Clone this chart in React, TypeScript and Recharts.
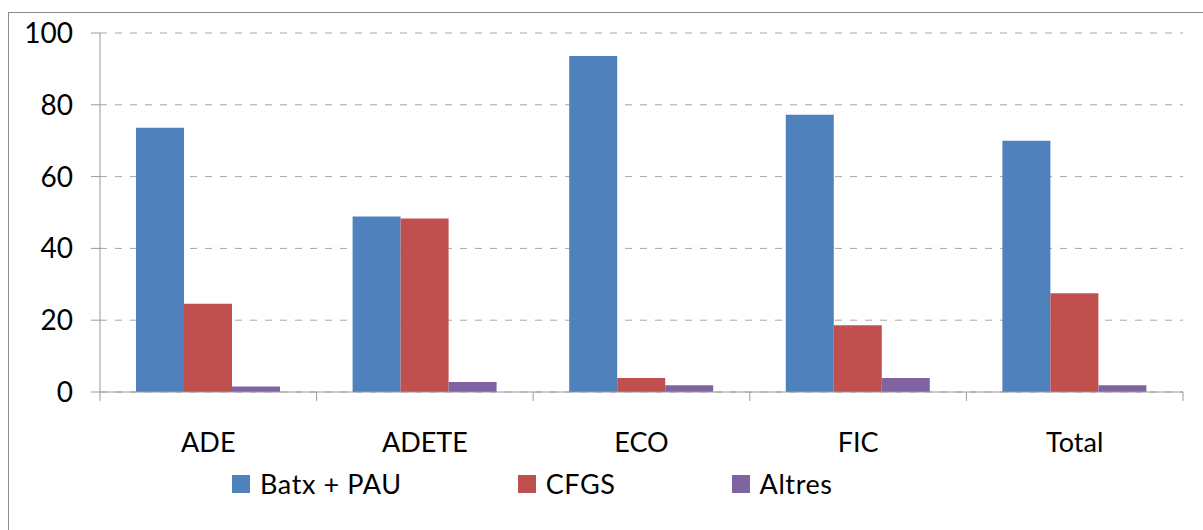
import React from 'react';
import { BarChart, Bar, XAxis, YAxis, CartesianGrid, Legend } from 'recharts';

const categories = ['ADE', 'ADETE', 'ECO', 'FIC', 'Total'];
const batxPau = [73.6, 48.9, 93.6, 77.2, 70.0];
const cfgs = [24.6, 48.3, 3.9, 18.6, 27.5];
const altres = [1.5, 2.8, 1.9, 3.9, 1.9];
const yTicks = [0, 20, 40, 60, 80, 100];

const series = [
  { key: 'batx', name: 'Batx + PAU', color: '#4F81BD' },
  { key: 'cfgs', name: 'CFGS', color: '#C0504D' },
  { key: 'altres', name: 'Altres', color: '#8064A2' },
];

const data = categories.map((cat, i) => ({
  cat,
  batx: batxPau[i],
  cfgs: cfgs[i],
  altres: altres[i],
}));

const font = 'Lato, "Open Sans", sans-serif';
const axisGray = '#9a9a9a';
const AXIS_Y = 392;

// category label plus Excel-style tick marks on the band edges
function CategoryTick(props: any) {
  const { x, y, payload, index, width, visibleTicksCount } = props;
  const step = width / visibleTicksCount;
  const left = x - step / 2;
  return (
    <g>
      <line x1={left} x2={left} y1={AXIS_Y} y2={AXIS_Y + 9} stroke={axisGray} />
      {index === visibleTicksCount - 1 && (
        <line x1={left + step} x2={left + step} y1={AXIS_Y} y2={AXIS_Y + 9} stroke={axisGray} />
      )}
      <text x={x} y={y} dy={20} textAnchor="middle" fontFamily={font} fontSize={27} fill="#000">
        {payload.value}
      </text>
    </g>
  );
}

function LegendRow() {
  return (
    <div style={{ height: 30, display: 'flex', alignItems: 'center', paddingLeft: 232, gap: 116 }}>
      {series.map((s) => (
        <div key={s.key} style={{ display: 'flex', alignItems: 'center' }}>
          <span style={{ width: 18, height: 18, background: s.color, marginRight: 10, display: 'inline-block' }} />
          <span style={{ fontFamily: font, fontSize: 27, color: '#000', lineHeight: '30px', letterSpacing: 0.6 }}>
            {s.name}
          </span>
        </div>
      ))}
    </div>
  );
}

export default function App() {
  return (
    <div style={{ position: 'absolute', left: 0, top: 0, width: 1203, height: 530, background: '#fff', overflow: 'hidden' }}>
      <div
        style={{
          position: 'absolute',
          left: 8,
          top: 12,
          width: 1210,
          height: 540,
          borderLeft: '1px solid #8c8c8c',
          borderTop: '1px solid #8c8c8c',
        }}
      />
      <div style={{ position: 'absolute', left: 0, top: 0 }}>
        <BarChart
          width={1203}
          height={530}
          data={data}
          margin={{ top: 33, right: 20, left: 8, bottom: 48 }}
          barGap={0}
          barSize={48}
        >
          <CartesianGrid vertical={false} stroke="#a6a6a6" strokeDasharray="7 8" />
          <XAxis
            dataKey="cat"
            height={60}
            stroke={axisGray}
            tickLine={false}
            tickSize={0}
            tickMargin={40}
            interval={0}
            tick={<CategoryTick />}
          />
          <YAxis
            domain={[0, 100]}
            ticks={yTicks}
            width={92}
            tickSize={9}
            tickMargin={18}
            stroke={axisGray}
            tick={{ fontFamily: font, fontSize: 28, fill: '#000' }}
          />
          <Legend
            content={<LegendRow />}
            wrapperStyle={{ left: 0, top: 469, width: 1203, height: 30 }}
          />
          {series.map((s) => (
            <Bar key={s.key} dataKey={s.key} name={s.name} fill={s.color} isAnimationActive={false} />
          ))}
        </BarChart>
      </div>
    </div>
  );
}
